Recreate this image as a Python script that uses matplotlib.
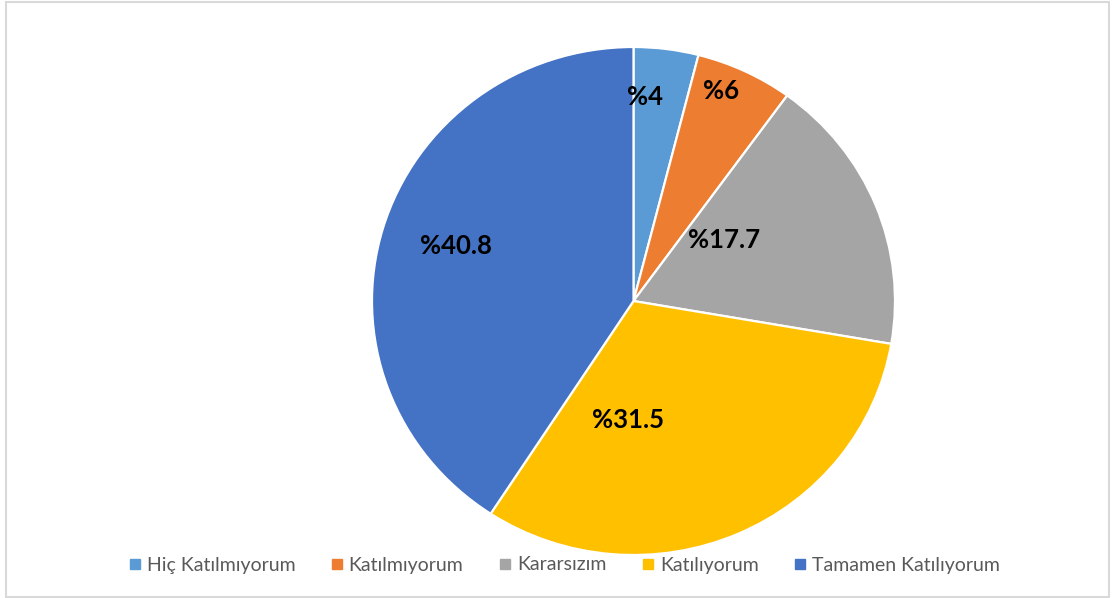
import matplotlib
matplotlib.use("Agg")
import matplotlib.pyplot as plt
from matplotlib.lines import Line2D
from matplotlib.patches import Rectangle

# veriler
categories = ["Hiç Katılmıyorum", "Katılmıyorum", "Kararsızım", "Katılıyorum", "Tamamen Katılıyorum"]
values = [4, 6, 17.7, 31.5, 40.8]
labels = ["%4", "%6", "%17.7", "%31.5", "%40.8"]
colors = ["#5B9BD5", "#ED7D31", "#A5A5A5", "#FFC000", "#4472C4"]
# etiket konumlari (pasta ekseni birimleri, Excel "best fit" gibi)
label_pos = [(0.044, 0.803), (0.335, 0.827), (0.346, 0.240), (-0.021, -0.469), (-0.679, 0.217)]

W, H = 1112, 598
fig = plt.figure(figsize=(W / 100, H / 100), dpi=100)

# pasta ekseni: elips 372..895 x, 47..555 y (piksel)
ax = fig.add_axes([372 / W, (H - 555) / H, 523 / W, 508 / H])
wedges, _ = ax.pie(values, colors=colors, startangle=90, counterclock=False,
                   radius=1.0, wedgeprops=dict(edgecolor="white", linewidth=1.6))
ax.set_aspect("auto")
ax.set_xlim(-1, 1)
ax.set_ylim(-1, 1)
ax.axis("off")

for (x, y), t in zip(label_pos, labels):
    ax.text(x, y, t, ha="center", va="center", fontsize=18.5, fontweight="bold",
            family="Lato", color="black")

handles = [Line2D([0], [0], marker="s", linestyle="none", markersize=6.5,
                  markerfacecolor=c, markeredgecolor=c) for c in colors]
leg = fig.legend(handles, categories, loc="center", bbox_to_anchor=(565 / W, (H - 565) / H),
                 ncol=5, frameon=False, handlelength=0.5, handletextpad=0.35,
                 columnspacing=1.9, prop=dict(family="Lato", size=14))
for t in leg.get_texts():
    t.set_color("#595959")

# dis cerceve
fig.patches.append(Rectangle((5.5 / W, 1.5 / H), (1109 - 5.5) / W, (H - 3.5) / H,
                             transform=fig.transFigure, fill=False,
                             edgecolor="#D9D9D9", linewidth=1.5))

fig.savefig("out.png", dpi=100)
